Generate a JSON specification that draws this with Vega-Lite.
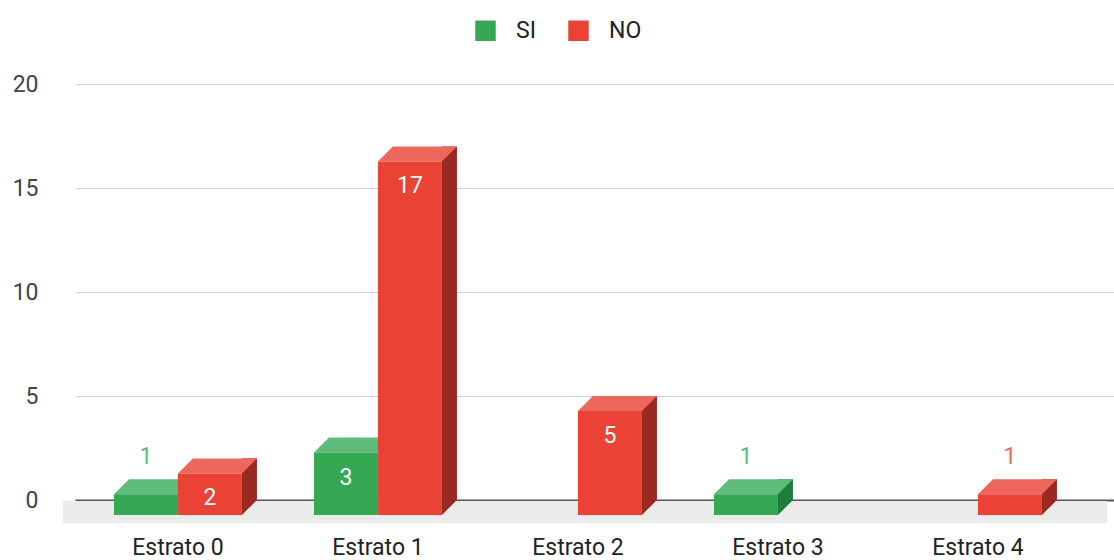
{
  "$schema": "https://vega.github.io/schema/vega-lite/v6.json",
  "autosize": {"type": "none"},
  "width": 1039,
  "height": 416,
  "padding": {"left": 75, "top": 84, "right": 0, "bottom": 60},
  "background": "white",
  "config": {
    "view": {"stroke": null},
    "font": "Roboto",
    "axis": {"labelFont": "Roboto", "labelFontSize": 23, "labelColor": "#444"}
  },
  "datasets": {
    "votos": [
      {"estrato": "Estrato 0", "serie": "SI", "valor": 1},
      {"estrato": "Estrato 0", "serie": "NO", "valor": 2},
      {"estrato": "Estrato 1", "serie": "SI", "valor": 3},
      {"estrato": "Estrato 1", "serie": "NO", "valor": 17},
      {"estrato": "Estrato 2", "serie": "SI", "valor": 0},
      {"estrato": "Estrato 2", "serie": "NO", "valor": 5},
      {"estrato": "Estrato 3", "serie": "SI", "valor": 1},
      {"estrato": "Estrato 3", "serie": "NO", "valor": 0},
      {"estrato": "Estrato 4", "serie": "SI", "valor": 0},
      {"estrato": "Estrato 4", "serie": "NO", "valor": 1}
    ],
    "piso": [{"nivel": 0}]
  },
  "layer": [
    {
      "data": {"name": "piso"},
      "mark": {"type": "rect", "fill": "#ebebeb", "yOffset": 1, "y2Offset": 23, "xOffset": -12, "x2Offset": -7},
      "encoding": {
        "x": {"value": 0},
        "x2": {"value": "width"},
        "y": {"field": "nivel", "type": "quantitative", "scale": {"domain": [0, 20]},
              "axis": {"title": null, "values": [0, 5, 10, 15, 20], "ticks": false, "domain": false, "labelPadding": 37,
                       "gridColor": {"condition": {"test": "datum.value === 0", "value": "#555"}, "value": "#d0d0d0"},
                       "gridWidth": {"condition": {"test": "datum.value === 0", "value": 2}, "value": 1}}},
        "y2": {"field": "nivel"}
      }
    },
    {
      "data": {"name": "votos"},
      "transform": [{"filter": "datum.valor > 0"}],
      "encoding": {
        "x": {"field": "estrato", "type": "nominal", "sort": null,
              "scale": {"domain": ["Estrato 0", "Estrato 1", "Estrato 2", "Estrato 3", "Estrato 4"], "paddingInner": 0.36, "paddingOuter": 0.2775, "align": 0.351},
              "axis": {"title": null, "labelAngle": 0, "ticks": false, "domain": false, "labelPadding": 54, "labelBaseline": "alphabetic", "labelColor": "#222"}},
        "y": {"field": "valor", "type": "quantitative"}
      },
      "layer": [
        {
          "transform": [{"filter": "datum.serie === 'SI'"}],
          "mark": {"type": "bar", "width": 15, "xOffset": 7.5, "fill": "#1f7d3b"},
          "encoding": {"y2": {"datum": 0}}
        },
        {
          "transform": [{"filter": "datum.serie === 'NO'"}],
          "mark": {"type": "bar", "width": 15, "xOffset": 71.5, "fill": "#992a23"},
          "encoding": {"y2": {"datum": 0}}
        },
        {
          "mark": {"type": "point", "shape": "M32,0L32,15L47,0Z", "size": 4, "filled": true, "opacity": 1, "strokeWidth": 0},
          "encoding": {
            "xOffset": {"field": "serie", "type": "nominal", "scale": {"domain": ["SI", "NO"], "paddingInner": 0, "paddingOuter": 0}},
            "y": {"datum": 0},
            "fill": {"condition": {"test": "datum.serie === 'SI'", "value": "#1f7d3b"}, "value": "#992a23"}
          }
        },
        {
          "mark": {"type": "point", "shape": "M-32,15L32,15L47,0L-17,0Z", "size": 4, "filled": true, "opacity": 1, "strokeWidth": 0},
          "encoding": {
            "xOffset": {"field": "serie", "type": "nominal", "scale": {"domain": ["SI", "NO"], "paddingInner": 0, "paddingOuter": 0}},
            "fill": {"condition": {"test": "datum.serie === 'SI'", "value": "#5fbb79"}, "value": "#ee675c"}
          }
        },
        {
          "mark": {"type": "bar", "yOffset": 15, "y2Offset": 15},
          "encoding": {
            "xOffset": {"field": "serie", "type": "nominal", "scale": {"domain": ["SI", "NO"], "paddingInner": 0, "paddingOuter": 0}},
            "y2": {"datum": 0},
            "color": {"field": "serie", "type": "nominal",
                      "scale": {"domain": ["SI", "NO"], "range": ["#34a853", "#ea4335"]},
                      "legend": {"title": null, "orient": "none", "legendX": 399, "legendY": -65, "direction": "horizontal",
                                 "symbolType": "square", "symbolSize": 420, "symbolStrokeWidth": 0, "labelFontSize": 23,
                                 "labelFont": "Roboto", "labelColor": "#222", "labelOffset": 19, "columnPadding": 31, "padding": 0}}
          }
        },
        {
          "transform": [{"filter": "datum.valor >= 2"}],
          "mark": {"type": "text", "yOffset": 40, "baseline": "middle", "fontSize": 23, "fill": "white"},
          "encoding": {
            "xOffset": {"field": "serie", "type": "nominal", "scale": {"domain": ["SI", "NO"], "paddingInner": 0, "paddingOuter": 0}},
            "text": {"field": "valor", "type": "quantitative"}
          }
        },
        {
          "transform": [{"filter": "datum.valor < 2"}],
          "mark": {"type": "text", "yOffset": -22, "baseline": "middle", "fontSize": 23},
          "encoding": {
            "xOffset": {"field": "serie", "type": "nominal", "scale": {"domain": ["SI", "NO"], "paddingInner": 0, "paddingOuter": 0}},
            "text": {"field": "valor", "type": "quantitative"},
            "fill": {"condition": {"test": "datum.serie === 'SI'", "value": "#5cc07c"}, "value": "#ef6b5f"}
          }
        }
      ]
    }
  ]
}
